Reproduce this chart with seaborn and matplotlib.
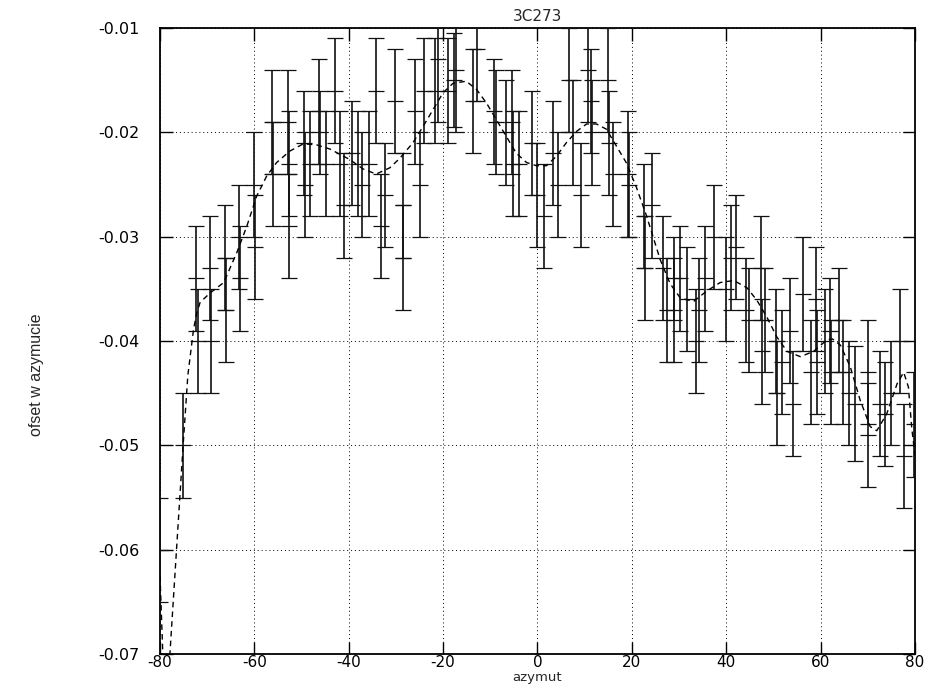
import matplotlib
matplotlib.use("Agg")
import matplotlib.pyplot as plt
import seaborn as sns
import numpy as np
import pandas as pd

# ---- measured points: azimuth, offset, error ----
azimuth = [-80.0, -75.1, -72.3, -72.0, -69.5, -69.2, -66.3, -66.0, -63.3, -63.0,
           -60.0, -59.8, -56.3, -56.1, -52.9, -52.7, -52.6, -49.5, -49.3, -48.3,
           -46.2, -46.0, -44.9, -43.0, -41.9, -41.1, -39.4, -38.1, -37.2, -35.8,
           -34.3, -33.2, -32.3, -30.3, -28.6, -28.4, -26.0, -24.9, -24.0, -21.7,
           -21.0, -18.9, -17.8, -17.2, -13.6, -12.8, -9.2, -8.8, -6.7, -5.3,
           -5.1, -3.9, -1.2, -0.2, 1.3, 3.3, 4.4, 6.6, 7.6, 9.2,
           10.6, 11.3, 11.5, 14.9, 15.1, 16.0, 19.1, 19.3, 22.6, 22.8,
           24.3, 26.6, 27.4, 28.9, 29.0, 30.3, 31.7, 33.5, 34.2, 35.6,
           37.5, 39.9, 41.1, 42.0, 44.2, 44.9, 47.4, 47.6, 48.3, 50.5,
           50.7, 51.9, 53.6, 54.1, 56.3, 57.9, 59.1, 59.3, 61.0, 62.0,
           62.2, 64.0, 64.8, 66.0, 67.3, 70.0, 70.1, 72.5, 73.7, 75.0,
           76.8, 77.6, 79.8]
offset = [-0.060, -0.050, -0.034, -0.040, -0.033, -0.040, -0.032, -0.037, -0.030, -0.034,
          -0.025, -0.031, -0.019, -0.024, -0.019, -0.023, -0.029, -0.021, -0.025, -0.023,
          -0.018, -0.020, -0.023, -0.016, -0.023, -0.027, -0.022, -0.023, -0.025, -0.023,
          -0.016, -0.029, -0.026, -0.017, -0.027, -0.032, -0.018, -0.025, -0.016, -0.016,
          -0.013, -0.016, -0.015, -0.014, -0.017, -0.012, -0.018, -0.019, -0.020, -0.019,
          -0.023, -0.023, -0.021, -0.026, -0.028, -0.022, -0.025, -0.015, -0.020, -0.026,
          -0.014, -0.017, -0.020, -0.015, -0.021, -0.024, -0.024, -0.025, -0.028, -0.033,
          -0.027, -0.033, -0.037, -0.037, -0.034, -0.034, -0.036, -0.040, -0.037, -0.034,
          -0.030, -0.035, -0.032, -0.031, -0.037, -0.038, -0.033, -0.041, -0.038, -0.040,
          -0.045, -0.042, -0.039, -0.046, -0.0355, -0.043, -0.036, -0.042, -0.040, -0.039,
          -0.043, -0.038, -0.043, -0.045, -0.046, -0.043, -0.049, -0.046, -0.047, -0.045,
          -0.040, -0.051, -0.048]
error = [0.005, 0.005, 0.005, 0.005, 0.005, 0.005, 0.005, 0.005, 0.005, 0.005,
         0.005, 0.005, 0.005, 0.005, 0.005, 0.005, 0.005, 0.005, 0.005, 0.005,
         0.005, 0.004, 0.005, 0.005, 0.005, 0.005, 0.005, 0.005, 0.005, 0.005,
         0.005, 0.005, 0.005, 0.005, 0.005, 0.005, 0.005, 0.005, 0.005, 0.005,
         0.006, 0.005, 0.0045, 0.006, 0.005, 0.005, 0.005, 0.005, 0.005, 0.005,
         0.005, 0.005, 0.005, 0.005, 0.005, 0.005, 0.005, 0.005, 0.005, 0.005,
         0.005, 0.005, 0.005, 0.005, 0.005, 0.005, 0.006, 0.005, 0.005, 0.005,
         0.005, 0.005, 0.005, 0.005, 0.004, 0.005, 0.005, 0.005, 0.005, 0.005,
         0.005, 0.005, 0.005, 0.005, 0.005, 0.005, 0.005, 0.005, 0.005, 0.005,
         0.005, 0.005, 0.005, 0.005, 0.0055, 0.005, 0.005, 0.005, 0.005, 0.005,
         0.005, 0.005, 0.005, 0.005, 0.0055, 0.005, 0.005, 0.005, 0.005, 0.005,
         0.005, 0.005, 0.005]

# ---- fitted curve ----
fit_az = [-80.0, -79.4, -79.0, -78.3, -77.9, -76.5, -75.1, -74.1, -72.9, -72.2,
          -71.5, -69.4, -66.5, -63.7, -61.6, -59.5, -57.4, -55.3, -52.5, -49.6,
          -46.8, -44.0, -39.8, -37.0, -34.2, -31.3, -29.2, -26.4, -24.2, -22.1,
          -20.0, -17.9, -15.1, -12.9, -10.8, -8.7, -6.6, -4.5, -2.3, -0.2,
          1.9, 4.0, 6.1, 8.3, 10.4, 12.5, 14.6, 16.7, 18.8, 20.9,
          23.1, 26.0, 28.1, 30.3, 33.1, 35.9, 38.7, 41.6, 44.4, 46.5,
          48.6, 50.7, 52.9, 55.7, 58.5, 61.3, 62.5, 64.2, 66.3, 68.4,
          70.5, 71.9, 74.0, 76.2, 77.6, 78.6, 79.3, 80.0]
fit_val = [-0.0625, -0.0700, -0.0740, -0.0740, -0.0700, -0.0600, -0.0500, -0.0433, -0.0389, -0.0373,
           -0.0363, -0.0354, -0.0344, -0.0315, -0.0290, -0.0261, -0.0242, -0.0229, -0.0218, -0.0211,
           -0.0212, -0.0216, -0.0226, -0.0235, -0.0240, -0.0234, -0.0225, -0.0210, -0.0194, -0.0178,
           -0.0162, -0.0153, -0.0151, -0.0159, -0.0172, -0.0188, -0.0204, -0.0220, -0.0229, -0.0232,
           -0.0232, -0.0223, -0.0210, -0.0199, -0.0192, -0.0192, -0.0197, -0.0213, -0.0229, -0.0252,
           -0.0280, -0.0322, -0.0345, -0.0359, -0.0362, -0.0352, -0.0344, -0.0342, -0.0349, -0.0361,
           -0.0377, -0.0396, -0.0410, -0.0415, -0.0410, -0.0399, -0.0398, -0.0404, -0.0425, -0.0457,
           -0.0482, -0.0486, -0.0470, -0.0441, -0.0430, -0.0444, -0.0483, -0.0510]

x_ticks = [-80, -60, -40, -20, 0, 20, 40, 60, 80]
x_ticklabels = ["-80", "-60", "-40", "-20", "0", "20", "40", "60", "80"]
y_ticks = [-0.07, -0.06, -0.05, -0.04, -0.03, -0.02, -0.01]
y_ticklabels = ["-0.07", "-0.06", "-0.05", "-0.04", "-0.03", "-0.02", "-0.01"]

sns.set_style("ticks")
plt.rcParams['font.family'] = ['DejaVu Sans']
plt.rcParams['axes.unicode_minus'] = False

fig = plt.figure(figsize=(9.29, 6.84), dpi=100)
ax = fig.add_axes([160/929, 1-654/684, 755/929, 626/684])

pts = pd.DataFrame({"azimuth": azimuth, "offset": offset, "error": error})
fit = pd.DataFrame({"azimuth": fit_az, "offset": fit_val})

ax.errorbar(pts["azimuth"], pts["offset"], yerr=pts["error"], fmt='none',
            ecolor='#111111', elinewidth=1.2, capsize=5.5, capthick=0.9, zorder=3)
sns.scatterplot(data=pts, x="azimuth", y="offset", marker='_', s=130,
                color='#111111', linewidth=0.9, ax=ax, zorder=4, legend=False)
sns.lineplot(data=fit, x="azimuth", y="offset", color='black', linewidth=1.0,
             linestyle=(0, (4, 3)), ax=ax, zorder=5, sort=False)

ax.set_xlim(-80, 80)
ax.set_ylim(-0.07, -0.01)
ax.set_xticks(x_ticks)
ax.set_xticklabels(x_ticklabels)
ax.set_yticks(y_ticks)
ax.set_yticklabels(y_ticklabels)
ax.grid(True, linestyle=(0, (1, 3)), color='black', linewidth=0.7)
ax.set_axisbelow(True)
ax.tick_params(direction='in', length=9, width=1, top=True, right=True,
               labelsize=11.5, colors='black')
ax.tick_params(axis='y', pad=15)
ax.tick_params(axis='x', pad=1, labelsize=11)
for s in ax.spines.values():
    s.set_linewidth(1.3)
    s.set_color('black')

ax.set_title("3C273", fontsize=11, pad=5)
ax.set_xlabel("azymut", fontsize=9.5)
ax.xaxis.set_label_coords(0.5, -(683.5 - 654) / 626)
ax.xaxis.label.set_va('bottom')
ax.set_ylabel("ofset w azymucie", fontsize=11.5,
              family=['Liberation Sans Narrow', 'Liberation Sans', 'DejaVu Sans'])
ax.yaxis.set_label_coords(-0.163, 0.446)
ax.yaxis.label.set_va('center')

fig.savefig("out.png", dpi=100)
